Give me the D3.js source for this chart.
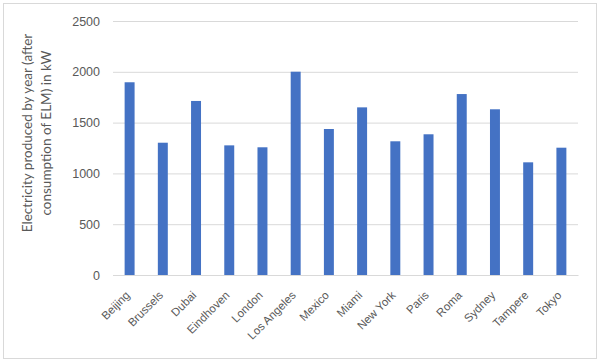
<!DOCTYPE html>
<html>
<head>
<meta charset="utf-8">
<script src="https://cdn.jsdelivr.net/npm/d3@7"></script>
<style>
  body { margin: 0; background: #fff; }
  svg { font-family: Lato, "Liberation Sans", sans-serif; }
</style>
</head>
<body>
<div id="chart"></div>
<script>
const cities = ['Beijing', 'Brussels', 'Dubai', 'Eindhoven', 'London', 'Los Angeles', 'Mexico',
                'Miami', 'New York', 'Paris', 'Roma', 'Sydney', 'Tampere', 'Tokyo'];
const electricity = [1897, 1302, 1713, 1276, 1257, 2001, 1437, 1650, 1316, 1385, 1781, 1631, 1109, 1253];
const yTicks = [0, 500, 1000, 1500, 2000, 2500];
const yTitle = ['Electricity produced by year (after', 'consumption of ELM) in kW'];

const width = 600;
const height = 363;
const margin = { top: 21, right: 22, bottom: 88, left: 113 };

const svg = d3.select('#chart')
              .append('svg')
              .attr('width', width)
              .attr('height', height);

// chart border
svg.append('rect')
   .attr('x', 3.5)
   .attr('y', 3.5)
   .attr('width', width - 7)
   .attr('height', height - 8)
   .attr('fill', '#fff')
   .attr('stroke', '#d9d9d9');

const xScale = d3.scaleBand()
                 .domain(cities)
                 .range([margin.left, width - margin.right])
                 .paddingInner(0.7)
                 .paddingOuter(0.35);

const yScale = d3.scaleLinear()
                 .domain([0, 2500])
                 .range([height - margin.bottom, margin.top]);

// gridlines + y labels
const yg = svg.append('g')
   .attr('transform', `translate(${margin.left}, 0)`)
   .call(d3.axisLeft(yScale)
           .tickValues(yTicks)
           .tickSize(-(width - margin.left - margin.right))
           .tickPadding(13)
           .tickFormat(d3.format('d')));

yg.select('.domain').remove();
yg.selectAll('.tick line').attr('stroke', '#d9d9d9');
yg.selectAll('.tick text').attr('fill', '#595959').style('font-size', '12.5px');

// bars
svg.append('g')
   .selectAll('rect')
   .data(electricity)
   .enter()
   .append('rect')
   .attr('x', (d, i) => xScale(cities[i]))
   .attr('y', d => yScale(d))
   .attr('width', xScale.bandwidth())
   .attr('height', d => yScale(0) - yScale(d))
   .attr('fill', '#4472c4');

// x axis with rotated labels
const xg = svg.append('g')
   .attr('transform', `translate(0, ${yScale(0)})`)
   .call(d3.axisBottom(xScale).tickSize(0).tickPadding(0));

xg.select('.domain').attr('stroke', '#d9d9d9');
xg.selectAll('.tick text').remove();
xg.selectAll('.tick')
  .append('text')
  .attr('transform', 'translate(1, 21) rotate(-45)')
  .attr('text-anchor', 'end')
  .attr('fill', '#595959')
  .style('font-size', '11.5px')
  .text(d => d);

// y title
const title = svg.append('text')
   .attr('transform', 'translate(35, 133) rotate(-90)')
   .attr('text-anchor', 'middle')
   .attr('fill', '#595959')
   .style('font-size', '13.5px');

title.selectAll('tspan')
   .data(yTitle)
   .enter()
   .append('tspan')
   .attr('x', 0)
   .attr('dy', (d, i) => i === 0 ? '-0.2em' : '1.35em')
   .text(d => d);
</script>
</body>
</html>
